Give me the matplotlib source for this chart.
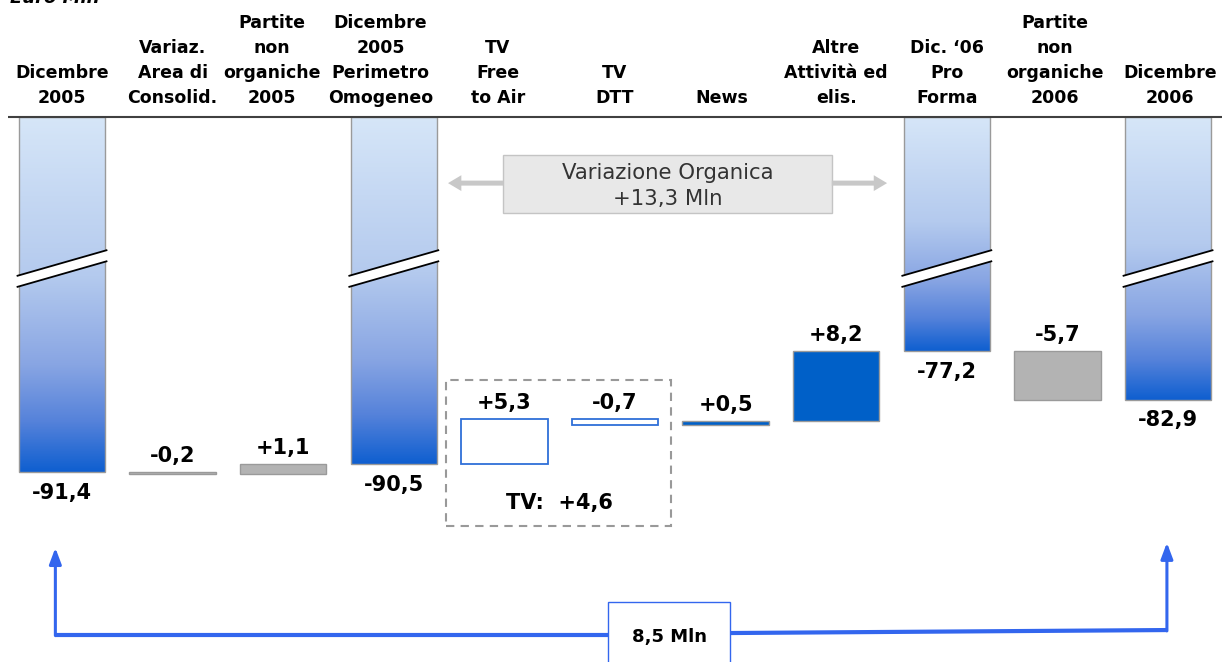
import matplotlib
matplotlib.use("Agg")
import matplotlib.pyplot as plt
import numpy as np
from matplotlib.colors import LinearSegmentedColormap
from matplotlib.patches import Polygon, Rectangle

# Waterfall: net financial position Dec 2005 -> Dec 2006 (Euro Mln)
HEADERS = [
    "Dicembre\n2005",
    "Variaz.\nArea di\nConsolid.",
    "Partite\nnon\norganiche\n2005",
    "Dicembre\n2005\nPerimetro\nOmogeneo",
    "TV\nFree\nto Air",
    "TV\nDTT",
    "News",
    "Altre\nAttività ed\nelis.",
    "Dic. \u201806\nPro\nForma",
    "Partite\nnon\norganiche\n2006",
    "Dicembre\n2006",
]
VALUES = [-91.4, -0.2, 1.1, -90.5, 5.3, -0.7, 0.5, 8.2, -77.2, -5.7, -82.9]
IS_TOTAL = [True, False, False, True, False, False, False, False, True, False, True]
STYLE = ["total", "gray", "gray", "total", "outline", "outline",
         "solid", "solid", "total", "gray", "total"]
TV_ITEMS = [4, 5]
ORGANIC_ITEMS = [4, 5, 6, 7]

# layout
AXIS_TOP = -49.7            # value where the truncated totals start
BREAK_UP = (-68.4, -65.35)  # upper break line, left/right bar edge
BREAK_GAP = 1.3
BAR_W = 0.78
HEADER_DX = [0, 0, -0.1, -0.12, -0.06, 0, -0.03, 0, 0, -0.02, 0.02]

BLUE_SOLID = "#0060c8"
BLUE_LINE = "#2f6fd8"
ARROW_BLUE = "#3366ee"
GRAY_FILL = "#b3b3b3"
EDGE_GRAY = "#9a9a9a"

BAR_CMAP = LinearSegmentedColormap.from_list(
    "bar_grad",
    [(0.0, "#d6e6f8"), (0.45, "#b4caee"), (0.7, "#88a5e3"),
     (0.86, "#5582da"), (1.0, "#0f5fd0")],
)

plt.rcParams["font.family"] = ["DejaVu Sans"]


def fmt(v, signed):
    s = f"{v:+.1f}" if signed else f"{v:.1f}"
    return s.replace(".", ",")


fig = plt.figure(figsize=(12.22, 6.62), dpi=100)
ax = fig.add_axes([0, 0, 1, 1])
ax.axis("off")

level = 0.0
grad = np.linspace(0, 1, 256).reshape(-1, 1)
for i, (v, total, style) in enumerate(zip(VALUES, IS_TOTAL, STYLE)):
    x0, x1 = i - BAR_W / 2, i + BAR_W / 2
    if total:
        top, bottom = AXIS_TOP, v
        level = v
        ax.imshow(grad, extent=(x0, x1, bottom, top), origin="upper",
                  cmap=BAR_CMAP, aspect="auto", interpolation="bicubic", zorder=2)
        ax.add_patch(Rectangle((x0, bottom), BAR_W, top - bottom, fill=False,
                               ec=EDGE_GRAY, lw=1.0, zorder=3))
        # axis break across the bar
        e = 0.02
        yl, yr = BREAK_UP
        band = Polygon([(x0 - e, yl), (x1 + e, yr), (x1 + e, yr - BREAK_GAP),
                        (x0 - e, yl - BREAK_GAP)], closed=True, fc="white",
                       ec="none", zorder=4)
        ax.add_patch(band)
        for off in (0, BREAK_GAP):
            ax.plot([x0 - e, x1 + e], [yl - off, yr - off], color="black",
                    lw=1.3, zorder=5, solid_capstyle="butt")
        ax.annotate(fmt(v, False), (i, bottom), xytext=(0, -15),
                    textcoords="offset points", ha="center", va="center",
                    fontsize=15, fontweight="bold")
    else:
        y0, y1 = level, level + v
        level = y1
        lo, hi = min(y0, y1), max(y0, y1)
        if style == "gray":
            fc, ec, lw = GRAY_FILL, EDGE_GRAY, 1.0
        elif style == "outline":
            fc, ec, lw = "white", BLUE_LINE, 1.3
        else:
            fc, ec, lw = BLUE_SOLID, EDGE_GRAY, 1.0
        ax.bar(i, hi - lo, bottom=lo, width=BAR_W, color=fc, edgecolor=ec,
               linewidth=lw, zorder=3)
        ax.annotate(fmt(v, True), (i, hi), xytext=(0, 11.5),
                    textcoords="offset points", ha="center", va="center",
                    fontsize=15, fontweight="bold")

# column headers and separator line
HEADER_Y = -48.55
for i, h in enumerate(HEADERS):
    ax.text(i + HEADER_DX[i], HEADER_Y, h, ha="center", va="bottom",
            multialignment="center", fontsize=12.5, fontweight="bold",
            linespacing=1.5)
ax.plot([-0.49, len(VALUES)], [AXIS_TOP, AXIS_TOP], color="#404040",
        lw=1.5, zorder=6, solid_capstyle="butt")

fig.text(10 / 1222, 1 - 3 / 662, "Euro Mln", fontsize=13, fontweight="bold",
         style="italic", va="baseline")

# organic variation box with grey arrows
organic = sum(VALUES[i] for i in ORGANIC_ITEMS)
ox0, ox1 = ORGANIC_ITEMS[0] - 0.01, ORGANIC_ITEMS[-1] - 0.04
ax.add_patch(Rectangle((ox0, -61.0), ox1 - ox0, 6.8, fc="#e8e8e8",
                       ec="#c4c4c4", lw=1.0, zorder=3))
ax.text((ox0 + ox1) / 2, -57.85,
        "Variazione Organica\n" + fmt(organic, True) + " Mln",
        ha="center", va="center", fontsize=15.3, color="#333333",
        linespacing=1.4, zorder=4)
grey_arrow = dict(arrowstyle="simple,head_length=0.8,head_width=0.95,tail_width=0.3",
                  color="#c8c8c8", lw=0, shrinkA=0, shrinkB=0, mutation_scale=12)
ax.annotate("", xy=(ox0 - 0.5, -57.5), xytext=(ox0, -57.5), arrowprops=grey_arrow)
ax.annotate("", xy=(ox1 + 0.5, -57.5), xytext=(ox1, -57.5), arrowprops=grey_arrow)

# dashed TV group box
tv = sum(VALUES[i] for i in TV_ITEMS)
tx0, tx1 = TV_ITEMS[0] - 0.53, TV_ITEMS[-1] + 0.51
ax.add_patch(Rectangle((tx0, -97.7), tx1 - tx0, 17.1, fill=False,
                       ec="#999999", lw=1.5, ls=(0, (4, 3)), zorder=3))
ax.text((TV_ITEMS[0] + TV_ITEMS[-1]) / 2, -95.0, "TV:  " + fmt(tv, True),
        ha="center", va="center", fontsize=15, fontweight="bold")

# bottom bracket: total change over the year
first, last = 0, len(VALUES) - 1
delta = VALUES[last] - VALUES[first]
bx0, bx1 = 4.94, 6.04
lx, rx = first - 0.06, last - 0.01
ax.plot([lx, bx0], [-110.5, -110.5], color=ARROW_BLUE, lw=3.0,
        solid_capstyle="butt", zorder=3)
ax.plot([bx1, rx], [-110.3, -109.95], color=ARROW_BLUE, lw=3.0,
        solid_capstyle="butt", zorder=3)
blue_arrow = dict(arrowstyle="-|>,head_length=0.8,head_width=0.3",
                  color=ARROW_BLUE, lw=2.2, shrinkA=0, shrinkB=0, mutation_scale=12)
ax.annotate("", xy=(lx, -100.3), xytext=(lx, -110.6), arrowprops=blue_arrow)
ax.annotate("", xy=(rx, -99.7), xytext=(rx, -110.05), arrowprops=blue_arrow)
ax.add_patch(Rectangle((bx0, -120.0), bx1 - bx0, 13.35, fc="white",
                       ec=ARROW_BLUE, lw=1.0, zorder=4))
ax.text((bx0 + bx1) / 2, -110.8, fmt(delta, False) + " Mln", ha="center",
        va="center", fontsize=13, fontweight="bold", zorder=5)

ax.set_xlim(-0.5606, 10.488)
ax.set_ylim(-113.70, -36.01)

fig.savefig("out.png", dpi=100)
